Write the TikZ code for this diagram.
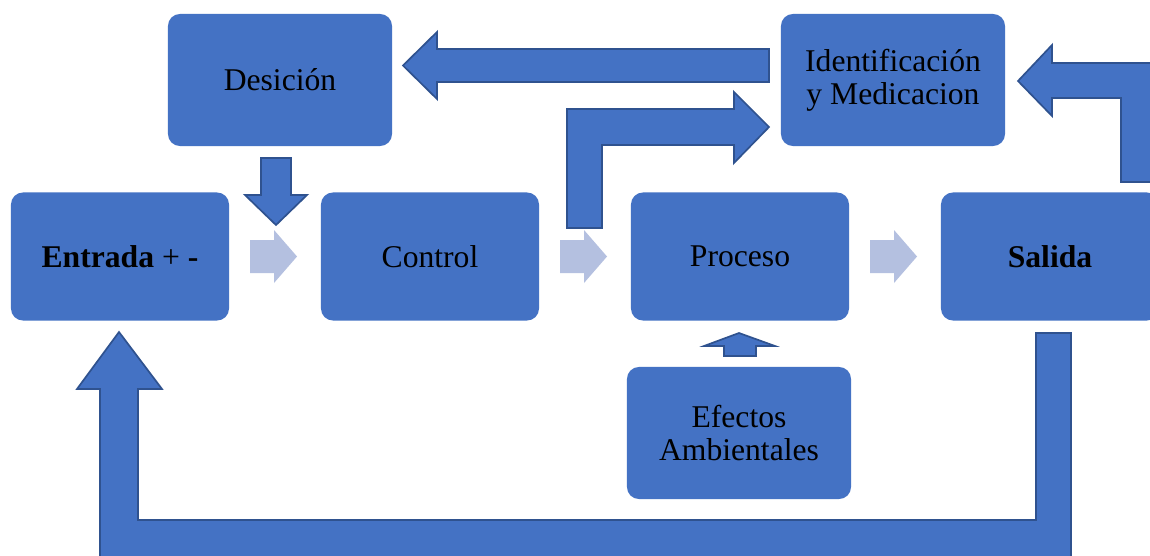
\documentclass[tikz,border=0pt]{standalone}
\usepackage{fontspec}
\setmainfont{Liberation Serif}
\usepackage{tikz}
\usetikzlibrary{positioning}
\definecolor{boxblue}{HTML}{4472C4}
\definecolor{edgeblue}{HTML}{2F528F}
\definecolor{paleblue}{HTML}{B4C0E0}

\begin{document}
\begin{tikzpicture}[x=0.025cm, y=-0.025cm,
    bloque/.style={fill=boxblue, rounded corners=0.3cm, minimum width=5.45cm, minimum height=3.2cm,
        align=center, font=\fontsize{22.5}{23.5}\selectfont, inner sep=2pt},
    bloquegr/.style={bloque, minimum width=5.6cm, minimum height=3.3cm},
    flecha/.style={fill=boxblue, draw=edgeblue, line width=1.2pt, line join=miter},
    flechita/.style={fill=paleblue}]
        \clip (0,0) rectangle (1150,555);
        \fill[white] (0,0) rectangle (1150,555);

        \node[bloque] (ent) at (120,256.5) {\textbf{Entrada} + \textbf{-}};
        \node[bloque] (ctl) at (430,256.5) {Control};
        \node[bloque] (pro) at (740,256.5) {Proceso};
        \node[bloque] (sal) at (1050,256.5) {\textbf{Salida}};
        \node[bloquegr] (des) at (280,80) {Desición};
        \node[bloquegr] (idm) at (893,80) {Identificación\\y Medicacion};
        \node[bloquegr] (efa) at (739,433) {Efectos\\Ambientales};

        % flechas claras entre bloques
        \foreach \x in {250,560,870}
            \fill[flechita] (\x,240) -- (\x+24,240) -- (\x+24,230) -- (\x+47,256.5)
                -- (\x+24,283) -- (\x+24,273) -- (\x,273) -- cycle;

        % identificacion -> desicion
        \draw[flecha] (769,49) -- (437,49) -- (437,32) -- (403,65.5) -- (437,99) -- (437,82) -- (769,82) -- cycle;
        % salida -> identificacion
        \draw[flecha] (1160,182) -- (1121,182) -- (1121,98) -- (1052,98) -- (1052,116) -- (1018,81)
            -- (1052,45) -- (1052,63) -- (1160,63) -- cycle;
        % control -> identificacion
        \draw[flecha] (567,228) -- (567,109) -- (734,109) -- (734,92) -- (769,127) -- (734,163)
            -- (734,145) -- (602,145) -- (602,228) -- cycle;
        % desicion -> control
        \draw[flecha] (261,158) -- (291,158) -- (291,195) -- (307,195) -- (276,225) -- (245,195) -- (261,195) -- cycle;
        % efectos -> proceso
        \draw[flecha] (724,356) -- (724,346) -- (704,346) -- (739,333) -- (775,346) -- (756,346) -- (756,356) -- cycle;
        % realimentacion salida -> entrada
        \draw[flecha] (1036,333) -- (1071,333) -- (1071,565) -- (100,565) -- (100,389) -- (77,389) -- (119,332)
            -- (162,389) -- (138,389) -- (138,520) -- (1036,520) -- cycle;
    \end{tikzpicture}
\end{document}
